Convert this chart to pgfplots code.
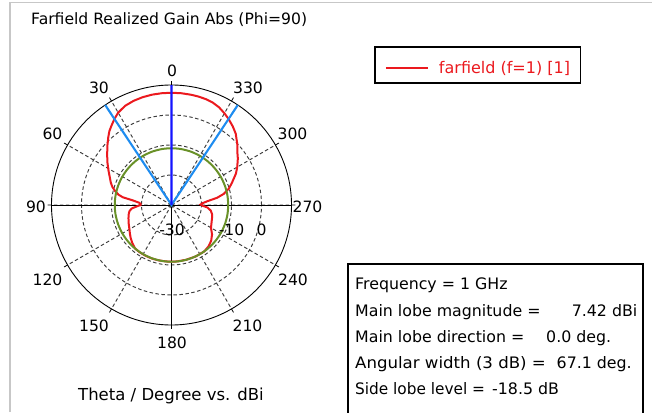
\documentclass[border=0pt]{standalone}
\usepackage{pgfplots}
\pgfplotsset{compat=1.18}
\usepgfplotslibrary{polar}
\usepackage{pgfplotstable}
\usepackage{fontspec}
\setmainfont{DejaVu Sans}
\definecolor{cstred}{RGB}{235,25,30}
\definecolor{cstgreen}{RGB}{105,145,40}
\definecolor{cstblue}{RGB}{20,20,255}
\definecolor{cstlblue}{RGB}{30,140,240}
\definecolor{gridgray}{RGB}{60,60,60}
\newcommand\tf{\fontsize{15.6}{18}\selectfont}
\newcommand\lf{\fontsize{16.5}{19}\selectfont}
\newcommand\bxf{\fontsize{15.8}{18}\selectfont}
\newcommand\lgf{\fontsize{16}{18}\selectfont}

% theta (deg, counter-clockwise from top), gain (dBi)
\pgfplotstableread{
theta dB
0 7.42
5 7.40
10 7.35
15 7.20
20 6.95
25 6.50
30 5.55
33.55 4.42
37 3.20
40 2.20
43 0.90
47 -0.80
51.5 -2.60
56 -4.20
61 -5.95
66 -7.50
70 -8.50
73 -9.40
76 -10.60
79 -12.00
81 -13.60
83 -16.80
86 -19.20
88 -19.70
90 -19.70
92 -18.60
95 -16.70
98 -15.90
101 -15.50
107 -15.00
114 -14.40
120 -13.80
125 -13.10
129 -12.50
134 -11.80
140 -11.10
146 -11.00
153 -11.00
160 -11.00
167 -11.05
174 -11.10
180 -11.08
186 -11.10
195 -11.10
205 -11.05
215 -11.05
222 -11.50
228 -12.20
234 -13.30
240 -14.80
246 -15.40
252 -15.80
257 -16.10
262 -16.80
266 -18.00
269 -19.80
271 -20.30
273 -19.80
276 -18.00
279 -14.60
282 -12.20
286 -10.10
290 -8.60
296 -6.10
300 -4.70
305 -3.00
308 -2.10
312 -0.40
318 2.00
322 3.20
326.45 4.42
330 5.30
334 6.20
338 6.80
342 7.10
346 7.25
350 7.33
355 7.40
360 7.42
}\redtab

\begin{document}
\begin{tikzpicture}[x=1pt,y=1pt]
\path[use as bounding box] (0,0) rectangle (652,412);
\draw[black!22, line width=1.2pt] (10,0) -- (10,409.5) -- (652,409.5);
\begin{polaraxis}[
  at={(171.5pt,207pt)}, anchor=center,
  width=240pt, height=240pt, scale only axis,
  xmin=0, xmax=360, ymin=0, ymax=40,
  xtick={0,30,...,330}, ytick={10,20,30},
  xticklabel=\empty, yticklabel=\empty,
  grid=major,
  major grid style={draw=gridgray, line width=0.95pt, dash pattern=on 3.5pt off 2.5pt},
  x axis line style={black, line width=0.9pt},
  y axis line style={draw=none},
  xtick style={black, line width=0.8pt},
  ytick style={draw=none},
  major tick length=4pt,
  axis on top=false,
  clip=false,
  legend style={at={(1.38958,1.07042)}, anchor=west, draw=none, fill=none,
    inner sep=0pt, outer sep=0pt, font=\lgf,
    nodes={inner sep=0pt, text=cstred}},
  legend image code/.code={\draw[#1] (0pt,0pt) -- (42pt,0pt); \path (52pt,0pt);},
]
\draw[black, line width=0.9pt] (axis cs:0,40) -- (axis cs:180,40);
\draw[black, line width=0.9pt] (axis cs:270,0) -- (axis cs:270,40);
\addplot[cstred, line width=2pt] table[x expr=\thisrow{theta}+90, y expr=\thisrow{dB}+30] {\redtab};
\addlegendentry{farfield (f=1) [1]}
\addplot[cstgreen, line width=2pt, smooth, forget plot] coordinates {
(0,18.92) (10,18.92) (20,18.92) (30,18.92) (40,18.92) (50,18.92) (60,18.92) (70,18.92) (80,18.92)
(90,18.92) (100,18.92) (110,18.92) (120,18.92) (130,18.92) (140,18.92) (150,18.92) (160,18.92) (170,18.92)
(180,18.92) (190,18.92) (200,18.92) (210,18.92) (220,18.92) (230,18.92) (240,18.92) (250,18.92) (260,18.92)
(270,18.92) (280,18.92) (290,18.92) (300,18.92) (310,18.92) (320,18.92) (330,18.92) (340,18.92) (350,18.92) (360,18.92)};
\addplot[cstlblue, line width=2.1pt, forget plot] coordinates {(123.55,40) (0,0) (56.45,40)};
\addplot[cstblue, line width=2.2pt, forget plot] coordinates {(90.01,40) (90.01,20) (90.01,0.01)};
\end{polaraxis}
% legend frame and info box
\draw[black, line width=1.6pt] (375,329) rectangle (580.5,365);
\draw[black, line width=1.6pt] (348,-10) -- (348,148) -- (643,148) -- (643,-10);
% title and axis label
\node[anchor=base west, inner sep=0pt, font=\tf] at (31,387) {Farfield Realized Gain Abs (Phi=90)};
\node[anchor=base west, inner sep=0pt, font=\lf] at (78,12) {Theta / Degree vs. dBi};
% angle labels
\begin{scope}[every node/.style={anchor=center, inner sep=0pt, font=\tf}]
\node at (172,341.5) {0};
\node at (99,324.5) {30};
\node at (52.5,278.5) {60};
\node at (36,205) {90};
\node at (47.5,132) {120};
\node at (94,86) {150};
\node at (172,69.5) {180};
\node at (247.5,86) {210};
\node at (293,132) {240};
\node at (307.5,205) {270};
\node at (292.5,278.5) {300};
\node at (248,324.5) {330};
\node at (172,182.5) {-30};
\node at (231.5,182.5) {-10};
\node at (261.5,182.5) {0};
\end{scope}
% info box text
\begin{scope}[every node/.style={inner sep=0pt, font=\bxf}]
\node[anchor=base west] at (355,122) {Frequency = 1 GHz};
\node[anchor=base west] at (355,95.5) {Main lobe magnitude =};
\node[anchor=base east] at (637.5,95.5) {7.42 dBi};
\node[anchor=base west] at (355,69.5) {Main lobe direction =};
\node[anchor=base west] at (546,69.5) {0.0 deg.};
\node[anchor=base west] at (355,43.7) {\scalebox{1.05}[1]{Angular width (3 dB) =}};
\node[anchor=base west] at (556.5,43.7) {67.1 deg.};
\node[anchor=base west] at (355,18) {\scalebox{0.97}[1]{Side lobe level =}};
\node[anchor=base west] at (492,18) {-18.5 dB};
\end{scope}
\end{tikzpicture}
\end{document}
